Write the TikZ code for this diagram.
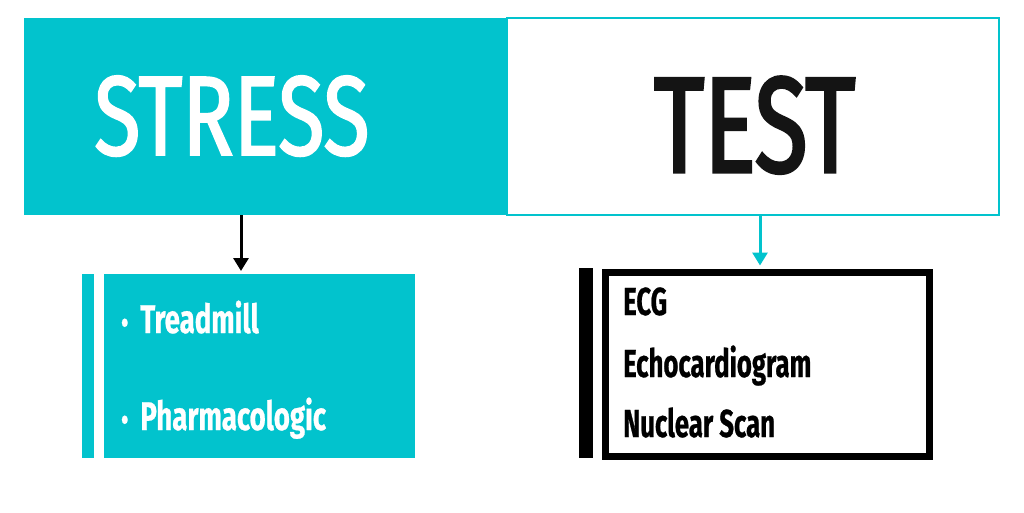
\documentclass[tikz,border=0pt]{standalone}
\usepackage{fontspec}
\usetikzlibrary{arrows.meta}
\newfontfamily\stressfont[FakeStretch=0.75,FakeBold=1.6]{Fira Sans}
\newfontfamily\testfont[FakeStretch=0.71,FakeBold=2.2]{Fira Sans}
\newfontfamily\litemfont[FakeStretch=0.69,FakeBold=0.6]{Fira Sans}
\newfontfamily\ritemfont[FakeStretch=0.66,FakeBold=0.6]{Fira Sans}
\definecolor{teal}{HTML}{02C3CD}
\tikzset{
  px/.style={x=1pt,y=-1pt},
  box/.style={rectangle,inner sep=0pt,outer sep=0pt},
  conn/.style={line width=3pt,-{Triangle[length=13pt,width=15pt]}},
  itemtxt/.style={anchor=base west,inner sep=0pt},
}
\begin{document}
\begin{tikzpicture}[px]
\useasboundingbox[fill=white] (0,0) rectangle (1024,512);
% top band
\node[box,fill=teal,minimum width=483pt,minimum height=197pt,anchor=north west] (stress) at (24,18) {};
\node[box,draw=teal,line width=2.5pt,minimum width=492pt,minimum height=197pt,anchor=north west] (test) at (507,18) {};
\node[anchor=base west,inner sep=0pt,text=white,font=\stressfont\fontsize{113}{113}\selectfont] (stresst) at (94,155) {STRESS};
\node[anchor=base west,inner sep=0pt,text=black!92,font=\testfont\fontsize{136}{136}\selectfont] (testt) at (654,172) {TEST};
% left box
\node[box,fill=teal,minimum width=12pt,minimum height=184pt,anchor=north west] (lbar) at (82,274) {};
\node[box,fill=teal,minimum width=311pt,minimum height=184pt,anchor=north west] (lbox) at (104,274) {};
\node[itemtxt,text=white,font=\litemfont\bfseries\fontsize{40}{40}\selectfont] (t1) at (121,333) {\fontsize{30}{30}\selectfont\textbullet\hspace{12pt}\fontsize{40}{40}\selectfont Treadmill};
\node[itemtxt,text=white,font=\litemfont\bfseries\fontsize{40}{40}\selectfont] (t2) at (121,430) {\fontsize{30}{30}\selectfont\textbullet\hspace{12pt}\fontsize{40}{40}\selectfont Pharmacologic};
% right box
\node[box,fill=black,minimum width=14pt,minimum height=190pt,anchor=north west] (rbar) at (579,268) {};
\node[box,draw=black,line width=7pt,minimum width=324pt,minimum height=184pt,anchor=north west] (rbox) at (605.5,272.5) {};
\node[itemtxt,text=black,font=\ritemfont\bfseries\fontsize{39}{39}\selectfont] (r1) at (623,315) {ECG};
\node[itemtxt,text=black,font=\ritemfont\bfseries\fontsize{39}{39}\selectfont] (r2) at (623,377) {Echocardiogram};
\node[itemtxt,text=black,font=\ritemfont\bfseries\fontsize{39}{39}\selectfont] (r3) at (623,437) {Nuclear Scan};
% connectors
\coordinate (a1) at (241,215);
\coordinate (a2) at (760,216);
\draw[conn,black] (a1) -- ([yshift=3pt]a1 |- lbox.north);
\draw[conn,teal] (a2) -- ([yshift=7pt]a2 |- rbox.north);
\end{tikzpicture}
\end{document}
